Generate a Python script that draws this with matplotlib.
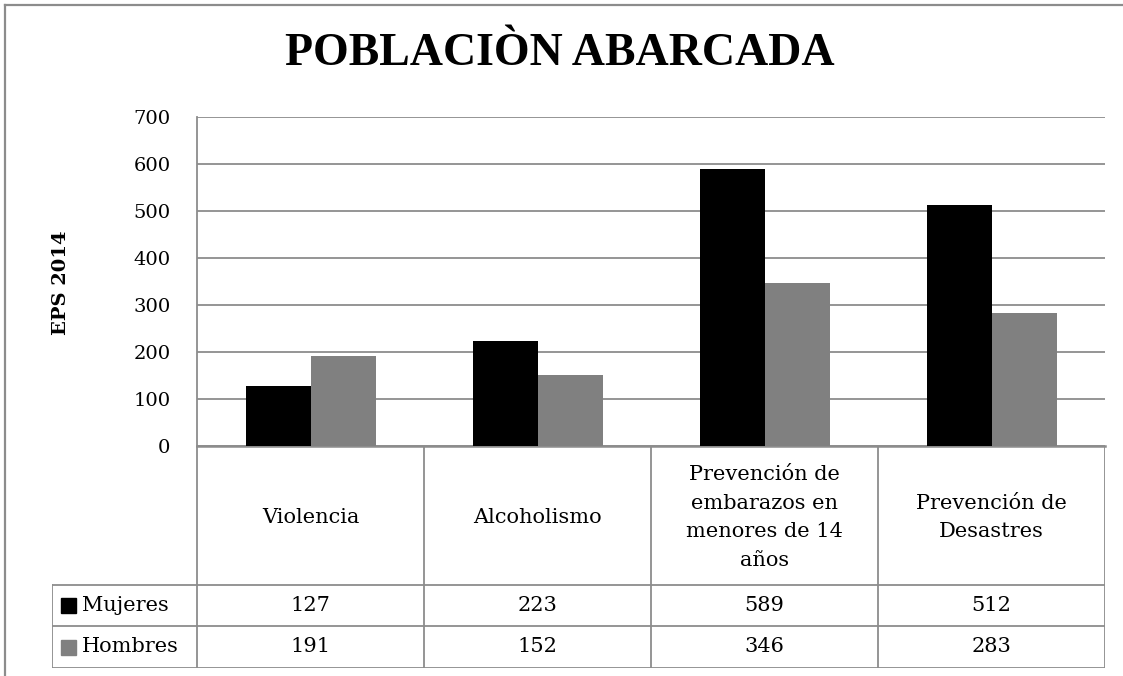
import matplotlib
matplotlib.use("Agg")
import matplotlib.pyplot as plt
from matplotlib.lines import Line2D
from matplotlib.patches import Rectangle

# data
categories = ["Violencia", "Alcoholismo",
              "Prevención de\nembarazos en\nmenores de 14\naños",
              "Prevención de\nDesastres"]
series_names = ["Mujeres", "Hombres"]
mujeres = [127, 223, 589, 512]
hombres = [191, 152, 346, 283]
y_ticks = [0, 100, 200, 300, 400, 500, 600, 700]

colors = ["#000000", "#808080"]
grid_col = "#8c8c8c"

# DejaVu Serif is closest in width to the original serif face
plt.rcParams['font.family'] = ['DejaVu Serif']

W, H = 1123, 676
fig = plt.figure(figsize=(W / 100, H / 100), dpi=100)

def fx(px):
    return px / W

def fy(py):
    return 1 - py / H

# plot area, pixel box
L, R, T, B = 197, 1105, 117, 446
ax = fig.add_axes([fx(L), fy(B), fx(R - L), (B - T) / H])

bw = 65 / 227
xs = list(range(len(categories)))
ax.bar([x - bw / 2 for x in xs], mujeres, width=bw, color=colors[0], zorder=3)
ax.bar([x + bw / 2 for x in xs], hombres, width=bw, color=colors[1], zorder=3)

ax.set_xlim(-0.5, len(categories) - 0.5)
ax.set_ylim(0, 700)
ax.set_yticks(y_ticks)
ax.set_xticks([])
ax.tick_params(axis='y', length=0, pad=19, labelsize=14)
ax.yaxis.grid(True, color=grid_col, linewidth=1.3)
ax.set_axisbelow(True)
for s in ['top', 'right']:
    ax.spines[s].set_visible(False)
ax.spines['left'].set_color(grid_col)
ax.spines['left'].set_linewidth(1.3)
ax.spines['bottom'].set_color(grid_col)
ax.spines['bottom'].set_linewidth(1.8)

fig.text(fx(61), fy(283), "EPS 2014", rotation=90, ha='center', va='center',
         fontsize=14, fontweight='bold')
fig.text(fx(560), fy(54), "POBLACIÒN ABARCADA", ha='center', va='center',
         fontsize=33, fontweight='bold', family=['Liberation Serif'])

# data table below the plot
leg_w = (L - 52) / 227
tax = fig.add_axes([fx(52), fy(668), fx(R - 52), (668 - B) / H])
tax.set_xlim(-0.5 - leg_w, len(categories) - 0.5)
tax.set_ylim(222, 0)
tax.axis('off')

row_y = [0, 139, 180, 222]
lw = 1.3
# horizontal lines
tax.plot([-0.5, len(categories) - 0.5], [row_y[0]] * 2, color=grid_col, lw=lw)
for yy in row_y[1:]:
    tax.plot([-0.5 - leg_w, len(categories) - 0.5], [yy] * 2, color=grid_col, lw=lw)
# vertical lines
tax.plot([-0.5 - leg_w] * 2, [row_y[1], row_y[3]], color=grid_col, lw=lw)
for i in range(len(categories) + 1):
    tax.plot([i - 0.5] * 2, [row_y[0], row_y[3]], color=grid_col, lw=lw)

for i, cat in enumerate(categories):
    tax.text(i, (row_y[0] + row_y[1]) / 2 + 2, cat, ha='center', va='center',
             fontsize=15, linespacing=1.65)
    tax.text(i, (row_y[1] + row_y[2]) / 2, str(mujeres[i]), ha='center',
             va='center', fontsize=15)
    tax.text(i, (row_y[2] + row_y[3]) / 2, str(hombres[i]), ha='center',
             va='center', fontsize=15)

for j, name in enumerate(series_names):
    yc = (row_y[j + 1] + row_y[j + 2]) / 2
    tax.add_patch(Rectangle((-0.5 - leg_w + 9 / 227, yc - 7.5), 15 / 227, 15,
                            color=colors[j], clip_on=False))
    tax.text(-0.5 - leg_w + 30 / 227, yc, name, ha='left', va='center', fontsize=15)

# outer chart border (only top and left visible)
fig.add_artist(Line2D([fx(5), 1], [fy(5), fy(5)], color=grid_col, lw=1.6))
fig.add_artist(Line2D([fx(5), fx(5)], [fy(5), 0], color=grid_col, lw=1.6))

fig.savefig("out.png", dpi=100)
